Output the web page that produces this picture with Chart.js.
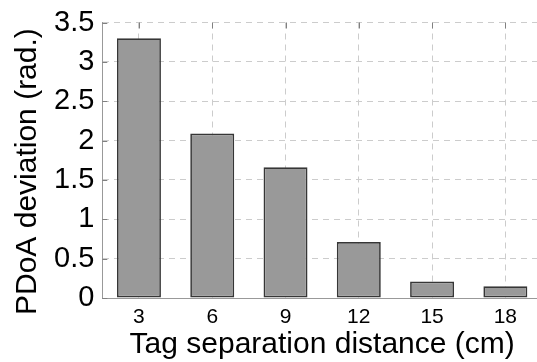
<!DOCTYPE html>
<html>
<head>
<meta charset="utf-8">
<script src="https://cdn.jsdelivr.net/npm/chart.js@4.4.1/dist/chart.umd.min.js"></script>
<style>
  html, body { margin: 0; padding: 0; background: #fff; overflow: hidden; }
  #wrap { position: relative; width: 542px; height: 362px; }
</style>
</head>
<body>
<div id="wrap"><canvas id="chart"></canvas></div>
<script>
const separations = ["3", "6", "9", "12", "15", "18"];
const deviations = [3.30, 2.09, 1.66, 0.71, 0.21, 0.15];
const yMax = 3.5;
const yStep = 0.5;

const font = "'Liberation Sans', Arial, Helvetica, sans-serif";

// short tick marks drawn inward from the top and left edges of the plot
const innerTicks = {
    id: "innerTicks",
    afterDatasetsDraw(chart) {
        const { ctx, chartArea: a, scales } = chart;
        ctx.save();
        ctx.strokeStyle = "#808080";
        ctx.lineWidth = 1;
        ctx.beginPath();
        scales.x.ticks.forEach((t, i) => {
            const x = Math.round(scales.x.getPixelForTick(i)) + 0.5;
            ctx.moveTo(x, a.top);
            ctx.lineTo(x, a.top + 6);
        });
        scales.y.ticks.forEach((t, i) => {
            const y = Math.round(scales.y.getPixelForTick(i)) + 0.5;
            ctx.moveTo(a.left, y);
            ctx.lineTo(a.left + 5, y);
        });
        ctx.stroke();
        ctx.restore();
    }
};

const ctx = document.getElementById("chart").getContext("2d");
new Chart(ctx, {
    type: "bar",
    data: {
        labels: separations,
        datasets: [{
            label: "PDoA deviation",
            data: deviations,
            backgroundColor: "#999999",
            borderColor: "#363636",
            borderWidth: 1.7,
            borderSkipped: false,
            barPercentage: 0.6,
            categoryPercentage: 1.0
        }]
    },
    options: {
        responsive: true,
        maintainAspectRatio: false,
        animation: false,
        layout: { padding: { top: 0, right: 0, bottom: 0, left: 6 } },
        plugins: { legend: { display: false }, tooltip: { enabled: false } },
        scales: {
            x: {
                offset: true,
                grid: { offset: false, color: "#cccccc", drawTicks: false },
                border: { display: true, color: "#999999", width: 1, dash: [6, 5] },
                ticks: { color: "#000", font: { family: font, size: 21, lineHeight: 1.0 }, padding: 8.25 },
                title: {
                    display: true,
                    text: "Tag separation distance (cm)",
                    color: "#000",
                    font: { family: font, size: 30, lineHeight: 0.6 },
                    padding: { top: 0, bottom: 8.5 }
                }
            },
            y: {
                min: 0,
                max: yMax,
                grid: { color: "#cccccc", drawTicks: false },
                border: { display: true, color: "#999999", width: 1, dash: [6, 5] },
                ticks: {
                    stepSize: yStep,
                    color: "#000",
                    font: { family: font, size: 29, lineHeight: 1.0 },
                    padding: 8,
                    callback: v => String(+v.toFixed(1))
                },
                title: {
                    display: true,
                    // trailing spaces nudge the rotated title down a little
                    text: "PDoA deviation (rad.)\u00a0\u00a0\u2009",
                    color: "#000",
                    font: { family: font, size: 30, lineHeight: 1.2 },
                    padding: { top: 4, bottom: 0 }
                }
            }
        }
    },
    plugins: [innerTicks]
});
</script>
</body>
</html>
